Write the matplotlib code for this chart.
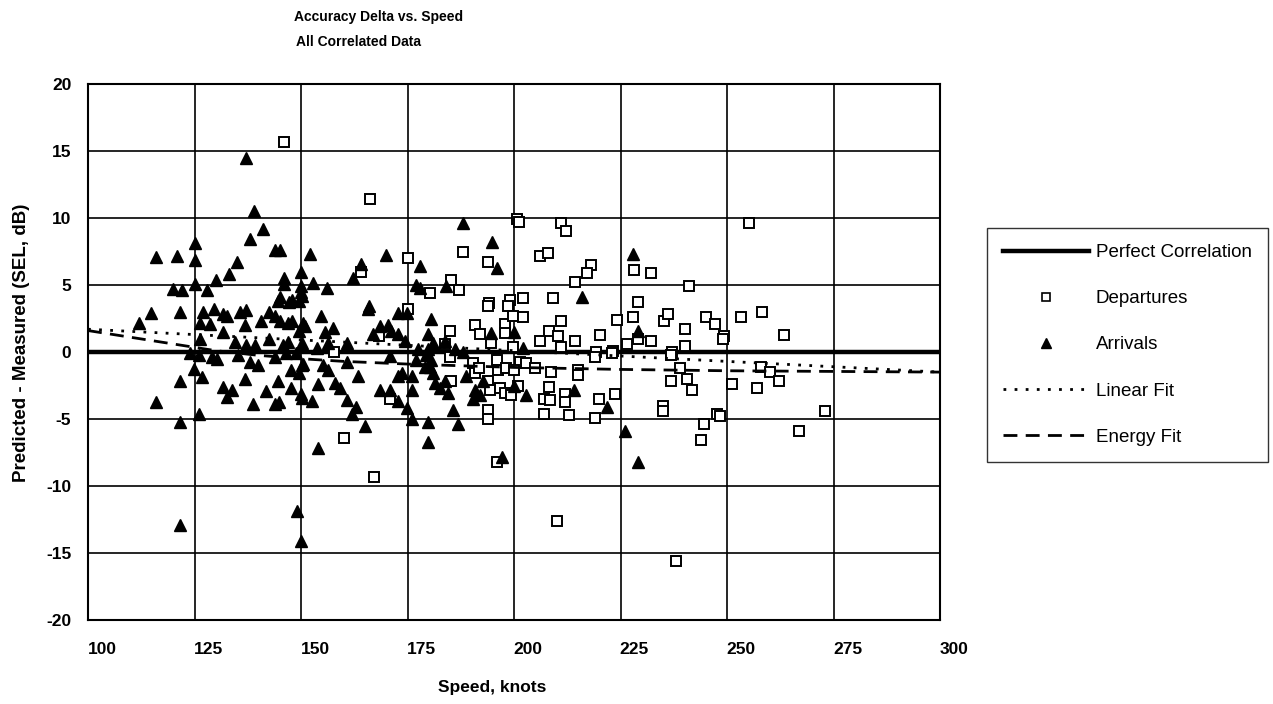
import matplotlib
matplotlib.use("Agg")
import matplotlib.pyplot as plt
import matplotlib.transforms as mtransforms
from matplotlib.lines import Line2D

plt.rcParams['font.family'] = ['Liberation Sans', 'DejaVu Sans']
plt.rcParams['axes.unicode_minus'] = False

# ---------------- data ----------------
arr_speed = [137, 139, 141, 138, 144, 145, 116, 121, 125, 125, 135, 133, 130, 146, 146, 125, 120, 122, 128, 150, 145, 148, 150, 150,
             114.7, 121.7, 112, 127.1, 129.5, 131.8, 132.7, 126.4, 128.7, 135.7, 137.2, 136.8, 140.7, 142.6, 143.8, 145, 146.9, 148,
             144.6, 147.3, 149.6, 150.4, 131.8, 126.4, 134.5, 137.2, 139.1, 142.6, 145.7, 146.9, 149.6, 124, 126, 129, 130.2, 135.3,
             138, 139.9, 143.8, 146.5, 148.8, 124.8, 126.7, 121.7, 136.8, 131.8, 133.7, 132.7, 141.7, 144.6, 147.7, 147.7, 149.6, 150,
             138.8, 143.8, 144.8, 115.9, 126, 121.7, 121.5, 149, 150,
             165.8, 154.8, 172.8, 174.8, 180.6, 150.9, 155.6, 157.6, 168.5, 170.5, 171.2, 172.8, 167, 174.4, 179.8, 181, 183.8, 194.7,
             160.9, 153.7, 156.4, 170.9, 150.5, 155.2, 156.4, 160.7, 177.1, 179.4, 180.6, 180.2, 179.1, 181, 181.4, 173.6, 176, 163.4,
             158, 154.1, 159.1, 168.5, 170.9, 172.8, 176, 172.8, 152.5, 160.7, 162.8, 161.9, 174.8, 176, 179.8, 185.7, 186.9, 165,
             150.2, 150.2, 150.2, 183.8, 182.6, 184.5, 188.8, 190.8, 190.4, 192, 192.7, 177.5, 179.8, 186.1, 188,
             188, 194.9, 196, 152, 164, 162.1, 170, 178, 152.9, 156, 177, 178, 184.1, 166, 150.2,
             154, 179.9, 197.2,
             228, 216, 229, 200, 202.7, 200, 214, 221.9, 226, 229.1, 202]
arr_delta = [14.5, 10.5, 9.2, 8.4, 7.6, 7.6, 7.1, 7.2, 8.1, 6.9, 6.7, 5.8, 5.4, 5.5, 5.1, 5.1, 4.7, 4.6, 4.6, 4.9, 4.1, 3.9, 6.0, 4.5,
             2.9, 3.0, 2.2, 3.0, 3.2, 2.85, 2.7, 2.2, 2.1, 3.0, 3.1, 2.0, 2.35, 3.0, 2.7, 2.35, 2.2, 2.35,
             3.8, 3.7, 3.8, 2.2, 1.5, 1.0, 0.75, 0.5, 0.5, 1.0, 0.5, 0.75, 1.6, -0.1, -0.25, -0.35, -0.5, -0.25,
             -0.75, -1.0, -0.35, -0.1, -0.1, -1.25, -1.85, -2.2, -2.0, -2.6, -2.85, -3.35, -2.9, -2.2, -1.35, -2.7, -1.6, -3.1,
             -3.9, -3.9, -3.7, -3.75, -4.6, -5.25, -12.9, -11.9, -14.1,
             3.2, 2.7, 2.9, 2.9, 2.5, 1.95, 1.5, 1.8, 1.95, 2.0, 1.6, 1.35, 1.35, 0.8, 1.35, 0.7, 0.8, 1.45,
             0.7, 0.3, 0.7, -0.3, -0.9, -1.0, -1.35, -0.75, -0.6, -0.25, -0.6, -1.1, -1.1, -1.6, -2.3, -1.6, -1.8, -1.8,
             -2.3, -2.4, -2.7, -2.8, -2.8, -1.8, -2.8, -3.65, -3.65, -3.6, -4.1, -4.6, -4.15, -5.0, -5.2, -4.3, -5.4, -5.5,
             0.7, -1.0, -3.4, -2.2, -2.7, -3.05, -1.8, -2.8, -3.5, -3.2, -2.2, 0.25, 0.25, 0.25, 0.0,
             9.65, 8.2, 6.3, 7.3, 6.6, 5.5, 7.25, 6.4, 5.15, 4.8, 5.0, 4.8, 4.95, 3.4, 4.2,
             -7.2, -6.7, -7.85,
             7.3, 4.1, 1.6, 1.5, -3.2, -2.5, -2.8, -4.1, -5.9, -8.2, 0.3]

dep_speed = [146, 166.1, 188, 193.9, 200.7, 164, 175.1, 180.2, 185.3, 187.2, 194.1, 199, 175, 184.9, 190.8, 192, 197.8, 197.8,
             193.9, 198.6, 199.8, 168.4, 157.8, 184.9, 183.8, 194.7, 199.8, 190.4, 190.8, 185.3, 195.9, 196.3, 193.9, 194.3,
             198.2, 196.6, 197.8, 199.4, 201, 201.3, 193.9, 193.9, 170.9, 160, 167.2, 196, 191.9,
             201.2, 211.1, 212.1, 206.1, 208, 218, 217.1, 214.3, 228.1, 232.2, 241.1, 202.2, 209.2, 229, 202.2, 211.1, 224.1,
             228, 235.3, 236.2, 245, 247.1, 240.2, 249.3, 208.3, 210.4, 220.1, 214.3, 206.1, 211.1, 229, 232.2, 226.5, 240.1,
             219.3, 223.2, 237.2,
             200, 202.9, 205, 208.8, 215.1, 215.1, 219, 222.9, 239, 236.8, 240.7, 241.9, 236.8,
             208.1, 207, 208.5, 212, 212, 207, 213, 219, 219.9, 223.8, 234.9, 234.9, 247.7, 244.7, 243.8, 210.2, 238,
             255.2, 253.4, 258.2, 263.3, 249, 258, 260.2, 262.2, 251.2, 257, 273.1, 267, 248.4]
dep_delta = [15.7, 11.4, 7.5, 6.7, 9.9, 6.0, 7.0, 4.4, 5.4, 4.65, 3.65, 3.9, 3.2, 1.6, 2.0, 1.35, 2.1, 1.45,
             3.4, 3.4, 2.7, 1.2, 0.0, -0.35, 0.6, 0.7, 0.35, -0.85, -1.6, -2.2, -0.6, -1.35, -2.2, -2.8,
             -1.2, -2.7, -3.05, -3.2, -2.55, -0.75, -4.3, -5.0, -3.5, -6.4, -9.3, -8.2, -1.2,
             9.7, 9.6, 9.0, 7.2, 7.4, 6.5, 5.9, 5.25, 6.1, 5.9, 4.95, 4.0, 4.05, 3.7, 2.6, 2.3, 2.4,
             2.6, 2.3, 2.8, 2.6, 2.1, 1.75, 1.2, 1.6, 1.2, 1.25, 0.85, 0.85, 0.4, 1.0, 0.85, 0.6, 0.46,
             0.0, 0.1, 0.0,
             -1.35, -0.85, -1.2, -1.5, -1.35, -1.7, -0.37, -0.1, -1.2, -2.2, -2.0, -2.8, -0.25,
             -2.6, -3.5, -3.6, -3.1, -3.7, -4.6, -4.7, -4.9, -3.5, -3.1, -4.0, -4.4, -4.6, -5.4, -6.6, -12.6, -15.6,
             9.6, 2.6, 3.0, 1.3, 1.0, -1.1, -1.5, -2.2, -2.4, -2.7, -4.4, -5.9, -4.8]

perfect_x = [100, 300]
perfect_y = [0, 0]
linear_x = [100, 300]
linear_y = [1.7, -1.5]
energy_x = [100, 105, 110, 115, 120, 125, 130, 140, 150, 160, 175, 200, 225, 250, 275, 300]
energy_y = [1.6, 1.35, 1.1, 0.85, 0.6, 0.35, 0.1, -0.25, -0.5, -0.7, -0.9, -1.15, -1.3, -1.4, -1.45, -1.5]

x_ticks = [100, 125, 150, 175, 200, 225, 250, 275, 300]
y_ticks = [-20, -15, -10, -5, 0, 5, 10, 15, 20]

# ---------------- figure ----------------
fig = plt.figure(figsize=(12.73, 7.04), dpi=100)
ax = fig.add_axes([88 / 1273, 1 - 620 / 704, (940 - 88) / 1273, (620 - 84) / 704])

ax.set_xlim(100, 300)
ax.set_ylim(-20, 20)
ax.set_xticks(x_ticks)
ax.set_yticks(y_ticks)
ax.grid(True, color='black', linewidth=1.2, zorder=0)
ax.set_axisbelow(True)
for s in ax.spines.values():
    s.set_linewidth(1.5)
ax.tick_params(axis='both', length=0, labelsize=12.5)
ax.tick_params(axis='y', pad=12)
ax.tick_params(axis='x', pad=16)
for lab in ax.get_xticklabels() + ax.get_yticklabels():
    lab.set_fontweight('bold')
shift = mtransforms.ScaledTranslation(14 / 100, 0, fig.dpi_scale_trans)
for lab in ax.get_xticklabels():
    lab.set_transform(lab.get_transform() + shift)

ax.plot(perfect_x, perfect_y, color='black', linewidth=3.2, zorder=2, label='Perfect Correlation')
ax.plot(dep_speed, dep_delta, linestyle='none', marker='s', markersize=7, markerfacecolor='white',
        markeredgecolor='black', markeredgewidth=1.4, zorder=3, label='Departures')
ax.plot(arr_speed, arr_delta, linestyle='none', marker='^', markersize=8, color='black', zorder=4, label='Arrivals')
ax.plot(linear_x, linear_y, color='black', linestyle=(0, (1, 3)), linewidth=2, zorder=5, label='Linear Fit')
ax.plot(energy_x, energy_y, color='black', linestyle=(0, (5, 3)), linewidth=2, zorder=5, label='Energy Fit')

ax.set_xlabel('Speed, knots', fontsize=12.5, fontweight='bold')
ax.xaxis.set_label_coords((492 - 88) / (940 - 88), -60 / 536)
ax.set_ylabel('Predicted - Measured (SEL, dB)', fontsize=13.5, fontweight='bold')
ax.yaxis.set_label_coords(-58 / 852, (620 - 343) / 536)

fig.text(379 / 1273, 1 - 17 / 704, 'Accuracy Delta vs. Speed', ha='center', va='center', fontsize=10, fontweight='bold')
fig.text(358 / 1273, 1 - 42 / 704, 'All Correlated Data', ha='center', va='center', fontsize=10, fontweight='bold')

handles = [
    Line2D([], [], color='black', linewidth=3.2),
    Line2D([], [], linestyle='none', marker='s', markersize=6, markerfacecolor='white', markeredgecolor='black', markeredgewidth=1.2),
    Line2D([], [], linestyle='none', marker='^', markersize=7, color='black'),
    Line2D([], [], color='black', linestyle=(0, (1, 3)), linewidth=2),
    Line2D([], [], color='black', linestyle=(0, (5, 3)), linewidth=2),
]
labels = ['Perfect Correlation', 'Departures', 'Arrivals', 'Linear Fit', 'Energy Fit']
leg = fig.legend(handles, labels, loc='upper left', bbox_to_anchor=(987 / 1273, 1 - 228 / 704),
                 frameon=True, fancybox=False, edgecolor='black', fontsize=13.5, handlelength=4.6,
                 labelspacing=1.55, borderpad=0.85, handletextpad=0.35, borderaxespad=0)
leg.get_frame().set_linewidth(1.0)

fig.savefig('out.png', dpi=100)
